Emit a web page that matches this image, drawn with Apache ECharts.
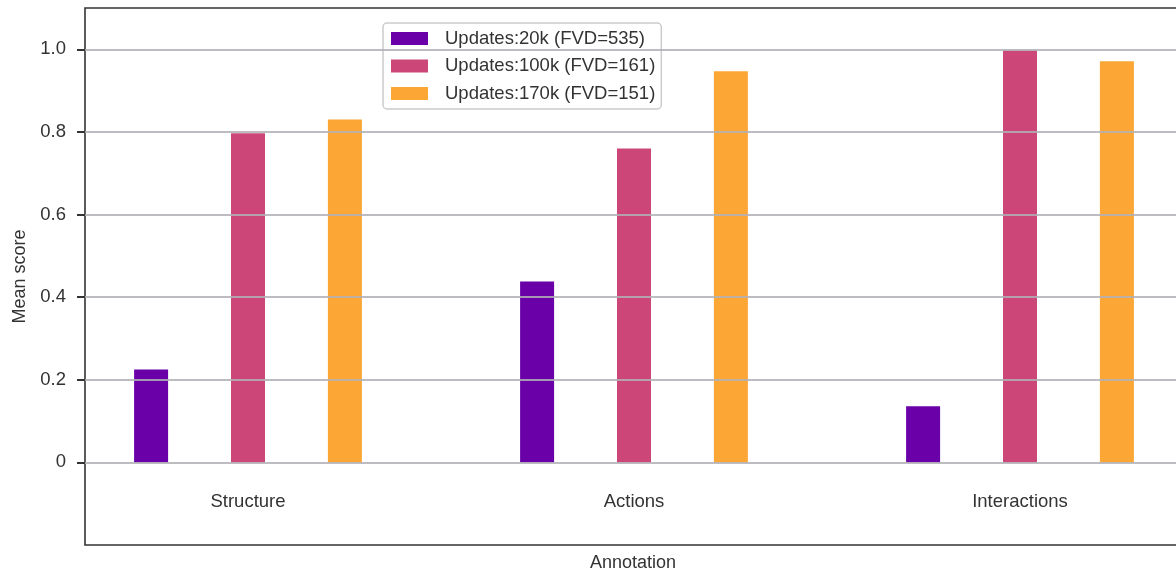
<!DOCTYPE html>
<html>
<head>
<meta charset="utf-8">
<script src="https://cdn.jsdelivr.net/npm/echarts@6/dist/echarts.min.js"></script>
<style>
  html, body { margin: 0; padding: 0; background: #fff; }
  #main { width: 1176px; height: 576px; }
</style>
</head>
<body>
<div id="main"></div>
<script>
var categories = ['Structure', 'Actions', 'Interactions'];
var seriesNames = ['Updates:20k (FVD=535)', 'Updates:100k (FVD=161)', 'Updates:170k (FVD=151)'];
var updates20k = [0.225, 0.438, 0.136];
var updates100k = [0.797, 0.760, 0.997];
var updates170k = [0.830, 0.947, 0.971];
var yTicks = [0, 0.2, 0.4, 0.6, 0.8, 1.0];
var colors = ['#6a00a8', '#cc4778', '#fca636'];

var textColor = '#333';
var fontFamily = '"Liberation Sans", Arial, sans-serif';

var myChart = echarts.init(document.getElementById('main'));

function barSeries(i, data) {
	return {
		name: seriesNames[i],
		type: 'bar',
		xAxisIndex: 1,
		yAxisIndex: 1,
		barWidth: 34,
		barGap: '185%',
		itemStyle: { color: colors[i] },
		data: data
	};
}

option = {
	animation: false,
	textStyle: { fontFamily: fontFamily },
	grid: [
		// frame, ticks and gridlines
		{ left: 85, right: -5, top: 8, bottom: 31, outerBoundsMode: 'none', show: true, borderColor: '#333', borderWidth: 1.6, backgroundColor: 'transparent' },
		// bars (band wider than the frame, cut at the right edge)
		{ left: 55, right: -37, top: 8, bottom: 31, outerBoundsMode: 'none' }
	],
	legend: {
		orient: 'vertical',
		left: 383,
		top: 23,
		padding: [6, 6, 6, 8],
		itemGap: 8.5,
		itemWidth: 37,
		itemHeight: 13,
		icon: 'rect',
		borderColor: '#cccccc',
		borderWidth: 1.5,
		borderRadius: 4,
		backgroundColor: 'rgba(255,255,255,0.9)',
		textStyle: { color: textColor, fontSize: 18.5, fontFamily: fontFamily, padding: [0, 0, 0, 12] },
		data: seriesNames
	},
	xAxis: [
		{
			gridIndex: 0,
			type: 'value',
			min: 0,
			max: 1,
			name: 'Annotation',
			nameLocation: 'middle',
			nameGap: 9,
			nameTextStyle: { color: textColor, fontSize: 18 },
			axisLine: { show: false },
			axisTick: { show: false },
			axisLabel: { show: false },
			splitLine: { show: false }
		},
		{
			gridIndex: 1,
			type: 'category',
			position: 'bottom',
			data: categories,
			axisLine: { show: false, onZero: false },
			axisTick: { show: false },
			axisLabel: { show: true, color: textColor, fontSize: 18.5, margin: -53 },
			splitLine: { show: false }
		}
	],
	yAxis: [
		{
			gridIndex: 0,
			type: 'value',
			min: -0.2,
			max: 1.1,
			interval: 0.2,
			z: 10,
			name: 'Mean score',
			nameLocation: 'middle',
			nameGap: 54,
			nameTextStyle: { color: textColor, fontSize: 18 },
			axisLine: { show: false },
			axisTick: { show: true, length: 8, customValues: yTicks, lineStyle: { color: '#333', width: 2 } },
			axisLabel: {
				color: textColor,
				fontSize: 18.5,
				margin: 19,
				customValues: yTicks,
				formatter: function (v) { return v === 0 ? '0' : v.toFixed(1); }
			},
			splitLine: { show: true, lineStyle: { color: 'rgba(176,176,182,0.85)', width: 2 } }
		},
		{
			gridIndex: 1,
			type: 'value',
			min: -0.2,
			max: 1.1,
			show: false,
			splitLine: { show: false }
		}
	],
	series: [
		barSeries(0, updates20k),
		barSeries(1, updates100k),
		barSeries(2, updates170k)
	]
};
myChart.setOption(option);
</script>
</body>
</html>
